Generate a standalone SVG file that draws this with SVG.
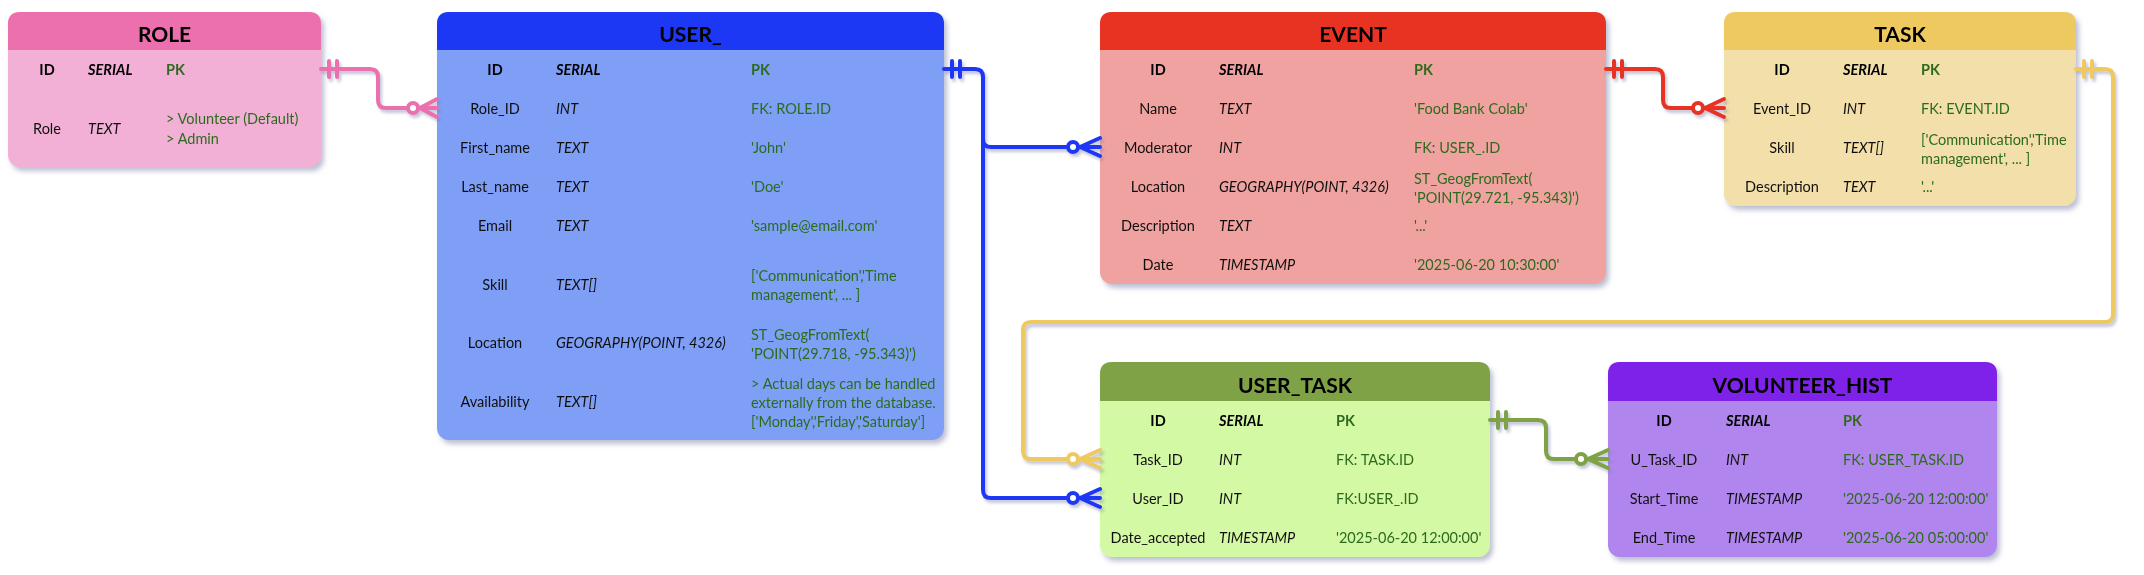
<svg xmlns="http://www.w3.org/2000/svg" width="2144" height="575" viewBox="0 0 2144 575">
<defs>
<filter id="sh" x="-10%" y="-10%" width="130%" height="130%">
<feDropShadow dx="3" dy="4" stdDeviation="2.5" flood-color="#7a80a8" flood-opacity="0.5"/>
</filter>
<filter id="shl" x="-5%" y="-5%" width="110%" height="110%">
<feDropShadow dx="2" dy="3" stdDeviation="1.5" flood-color="#7a80a8" flood-opacity="0.45"/>
</filter>
</defs>
<style>
text{font-family:Lato,"Liberation Sans",sans-serif;dominant-baseline:central}
.ttl{font-size:21px;font-weight:bold;text-anchor:middle;fill:#000}
.n{font-size:14.5px;text-anchor:middle;fill:#111}
.nb{font-size:14.5px;text-anchor:middle;fill:#000;font-weight:bold}
.t{font-size:14.5px;font-style:italic;fill:#111}
.tb{font-size:14.5px;font-style:italic;font-weight:bold;fill:#000}
.v{font-size:14.5px;fill:#2e6b1f}
.vb{font-size:14.5px;fill:#2e6b1f;font-weight:bold}
.c{fill:none;stroke-width:4;stroke-linecap:round;stroke-linejoin:round}
.o{fill:#fff;stroke-width:4}
</style>

<g id="ROLE" filter="url(#sh)">
<rect x="8" y="12" width="313" height="155" rx="12" fill="#f2b0d7"/>
<path d="M8,50 V24 Q8,12 20,12 H309 Q321,12 321,24 V50 Z" fill="#ed6fae"/>
<text class="ttl" x="164.5" y="33">ROLE</text>
<text class="nb" x="47" y="69">ID</text><text class="tb" x="88" y="69">SERIAL</text><text class="vb" x="166" y="69">PK</text>
<text class="n" x="47" y="128">Role</text><text class="t" x="88" y="128">TEXT</text>
<text class="v" x="166" y="118">&gt; Volunteer (Default)</text><text class="v" x="166" y="138">&gt; Admin</text>
</g>

<g id="USER_" filter="url(#sh)">
<rect x="437" y="12" width="507" height="428" rx="12" fill="#7f9ff7"/>
<path d="M437,50 V24 Q437,12 449,12 H932 Q944,12 944,24 V50 Z" fill="#1b38f5"/>
<text class="ttl" x="690.5" y="33">USER_</text>
<text class="nb" x="495" y="69">ID</text><text class="tb" x="556" y="69">SERIAL</text><text class="vb" x="751" y="69">PK</text>
<text class="n" x="495" y="108">Role_ID</text><text class="t" x="556" y="108">INT</text><text class="v" x="751" y="108">FK: ROLE.ID</text>
<text class="n" x="495" y="147">First_name</text><text class="t" x="556" y="147">TEXT</text><text class="v" x="751" y="147">'John'</text>
<text class="n" x="495" y="186">Last_name</text><text class="t" x="556" y="186">TEXT</text><text class="v" x="751" y="186">'Doe'</text>
<text class="n" x="495" y="225">Email</text><text class="t" x="556" y="225">TEXT</text><text class="v" x="751" y="225">'sample@email.com'</text>
<text class="n" x="495" y="284">Skill</text><text class="t" x="556" y="284">TEXT[]</text>
<text class="v" x="751" y="275">['Communication','Time</text><text class="v" x="751" y="294">management', ... ]</text>
<text class="n" x="495" y="342">Location</text><text class="t" x="556" y="342">GEOGRAPHY(POINT, 4326)</text>
<text class="v" x="751" y="334">ST_GeogFromText(</text><text class="v" x="751" y="353">'POINT(29.718, -95.343)')</text>
<text class="n" x="495" y="401">Availability</text><text class="t" x="556" y="401">TEXT[]</text>
<text class="v" x="751" y="383">&gt; Actual days can be handled</text><text class="v" x="751" y="402">externally from the database.</text><text class="v" x="751" y="421">['Monday','Friday','Saturday']</text>
</g>

<g id="EVENT" filter="url(#sh)">
<rect x="1100" y="12" width="506" height="272" rx="12" fill="#f0a2a0"/>
<path d="M1100,50 V24 Q1100,12 1112,12 H1594 Q1606,12 1606,24 V50 Z" fill="#e83324"/>
<text class="ttl" x="1353" y="33">EVENT</text>
<text class="nb" x="1158" y="69">ID</text><text class="tb" x="1219" y="69">SERIAL</text><text class="vb" x="1414" y="69">PK</text>
<text class="n" x="1158" y="108">Name</text><text class="t" x="1219" y="108">TEXT</text><text class="v" x="1414" y="108">'Food Bank Colab'</text>
<text class="n" x="1158" y="147">Moderator</text><text class="t" x="1219" y="147">INT</text><text class="v" x="1414" y="147">FK: USER_.ID</text>
<text class="n" x="1158" y="186">Location</text><text class="t" x="1219" y="186">GEOGRAPHY(POINT, 4326)</text>
<text class="v" x="1414" y="178">ST_GeogFromText(</text><text class="v" x="1414" y="197">'POINT(29.721, -95.343)')</text>
<text class="n" x="1158" y="225">Description</text><text class="t" x="1219" y="225">TEXT</text><text class="v" x="1414" y="225">'...'</text>
<text class="n" x="1158" y="264">Date</text><text class="t" x="1219" y="264">TIMESTAMP</text><text class="v" x="1414" y="264">'2025-06-20 10:30:00'</text>
</g>

<g id="TASK" filter="url(#sh)">
<rect x="1724" y="12" width="352" height="194" rx="12" fill="#f2dfaa"/>
<path d="M1724,50 V24 Q1724,12 1736,12 H2064 Q2076,12 2076,24 V50 Z" fill="#eec95e"/>
<text class="ttl" x="1900" y="33">TASK</text>
<text class="nb" x="1782" y="69">ID</text><text class="tb" x="1843" y="69">SERIAL</text><text class="vb" x="1921" y="69">PK</text>
<text class="n" x="1782" y="108">Event_ID</text><text class="t" x="1843" y="108">INT</text><text class="v" x="1921" y="108">FK: EVENT.ID</text>
<text class="n" x="1782" y="147">Skill</text><text class="t" x="1843" y="147">TEXT[]</text>
<text class="v" x="1921" y="139">['Communication','Time</text><text class="v" x="1921" y="158">management', ... ]</text>
<text class="n" x="1782" y="186">Description</text><text class="t" x="1843" y="186">TEXT</text><text class="v" x="1921" y="186">'...'</text>
</g>

<g id="USER_TASK" filter="url(#sh)">
<rect x="1100" y="362" width="390" height="195" rx="12" fill="#d4f9a4"/>
<path d="M1100,401 V374 Q1100,362 1112,362 H1478 Q1490,362 1490,374 V401 Z" fill="#7ea244"/>
<text class="ttl" x="1295" y="384">USER_TASK</text>
<text class="nb" x="1158" y="420">ID</text><text class="tb" x="1219" y="420">SERIAL</text><text class="vb" x="1336" y="420">PK</text>
<text class="n" x="1158" y="459">Task_ID</text><text class="t" x="1219" y="459">INT</text><text class="v" x="1336" y="459">FK: TASK.ID</text>
<text class="n" x="1158" y="498">User_ID</text><text class="t" x="1219" y="498">INT</text><text class="v" x="1336" y="498">FK:USER_.ID</text>
<text class="n" x="1158" y="537">Date_accepted</text><text class="t" x="1219" y="537">TIMESTAMP</text><text class="v" x="1336" y="537">'2025-06-20 12:00:00'</text>
</g>

<g id="VOLUNTEER_HIST" filter="url(#sh)">
<rect x="1608" y="362" width="389" height="195" rx="12" fill="#b086ee"/>
<path d="M1608,401 V374 Q1608,362 1620,362 H1985 Q1997,362 1997,374 V401 Z" fill="#7e22e9"/>
<text class="ttl" x="1802.5" y="384">VOLUNTEER_HIST</text>
<text class="nb" x="1664" y="420">ID</text><text class="tb" x="1726" y="420">SERIAL</text><text class="vb" x="1843" y="420">PK</text>
<text class="n" x="1664" y="459">U_Task_ID</text><text class="t" x="1726" y="459">INT</text><text class="v" x="1843" y="459">FK: USER_TASK.ID</text>
<text class="n" x="1664" y="498">Start_Time</text><text class="t" x="1726" y="498">TIMESTAMP</text><text class="v" x="1843" y="498">'2025-06-20 12:00:00'</text>
<text class="n" x="1664" y="537">End_Time</text><text class="t" x="1726" y="537">TIMESTAMP</text><text class="v" x="1843" y="537">'2025-06-20 05:00:00'</text>
</g>

<g id="connectors" filter="url(#shl)">
<g stroke="#ed6fae">
<path class="c" d="M321,69 H370 Q378,69 378,77 V100 Q378,108 386,108 H437"/>
<path class="c" d="M329,61 V77 M337,61 V77 M420,108 L437,99 M420,108 L437,117"/>
<circle class="o" cx="413" cy="108" r="5"/>
</g>
<g stroke="#1b38f5">
<path class="c" d="M944,69 H975 Q983,69 983,77 V139 Q983,147 991,147 H1100"/>
<path class="c" d="M983,77 V490 Q983,498 991,498 H1100"/>
<path class="c" d="M952,61 V77 M960,61 V77 M1080,147 L1100,138 M1080,147 L1100,156 M1080,498 L1100,489 M1080,498 L1100,507"/>
<circle class="o" cx="1073" cy="147" r="5"/>
<circle class="o" cx="1073" cy="498" r="5"/>
</g>
<g stroke="#e83324">
<path class="c" d="M1606,69 H1655 Q1663,69 1663,77 V100 Q1663,108 1671,108 H1724"/>
<path class="c" d="M1614,61 V77 M1622,61 V77 M1705,108 L1724,99 M1705,108 L1724,117"/>
<circle class="o" cx="1698" cy="108" r="5"/>
</g>
<g stroke="#eec95e">
<path class="c" d="M2076,69 H2105 Q2113,69 2113,77 V314 Q2113,322 2105,322 H1031 Q1023,322 1023,330 V451 Q1023,459 1031,459 H1100"/>
<path class="c" d="M2084,61 V77 M2092,61 V77 M1080,459 L1100,450 M1080,459 L1100,468"/>
<circle class="o" cx="1073" cy="459" r="5"/>
</g>
<g stroke="#7ea244">
<path class="c" d="M1490,420 H1538 Q1546,420 1546,428 V451 Q1546,459 1554,459 H1608"/>
<path class="c" d="M1498,412 V428 M1506,412 V428 M1588,459 L1608,450 M1588,459 L1608,468"/>
<circle class="o" cx="1581" cy="459" r="5"/>
</g>
</g>
</svg>
